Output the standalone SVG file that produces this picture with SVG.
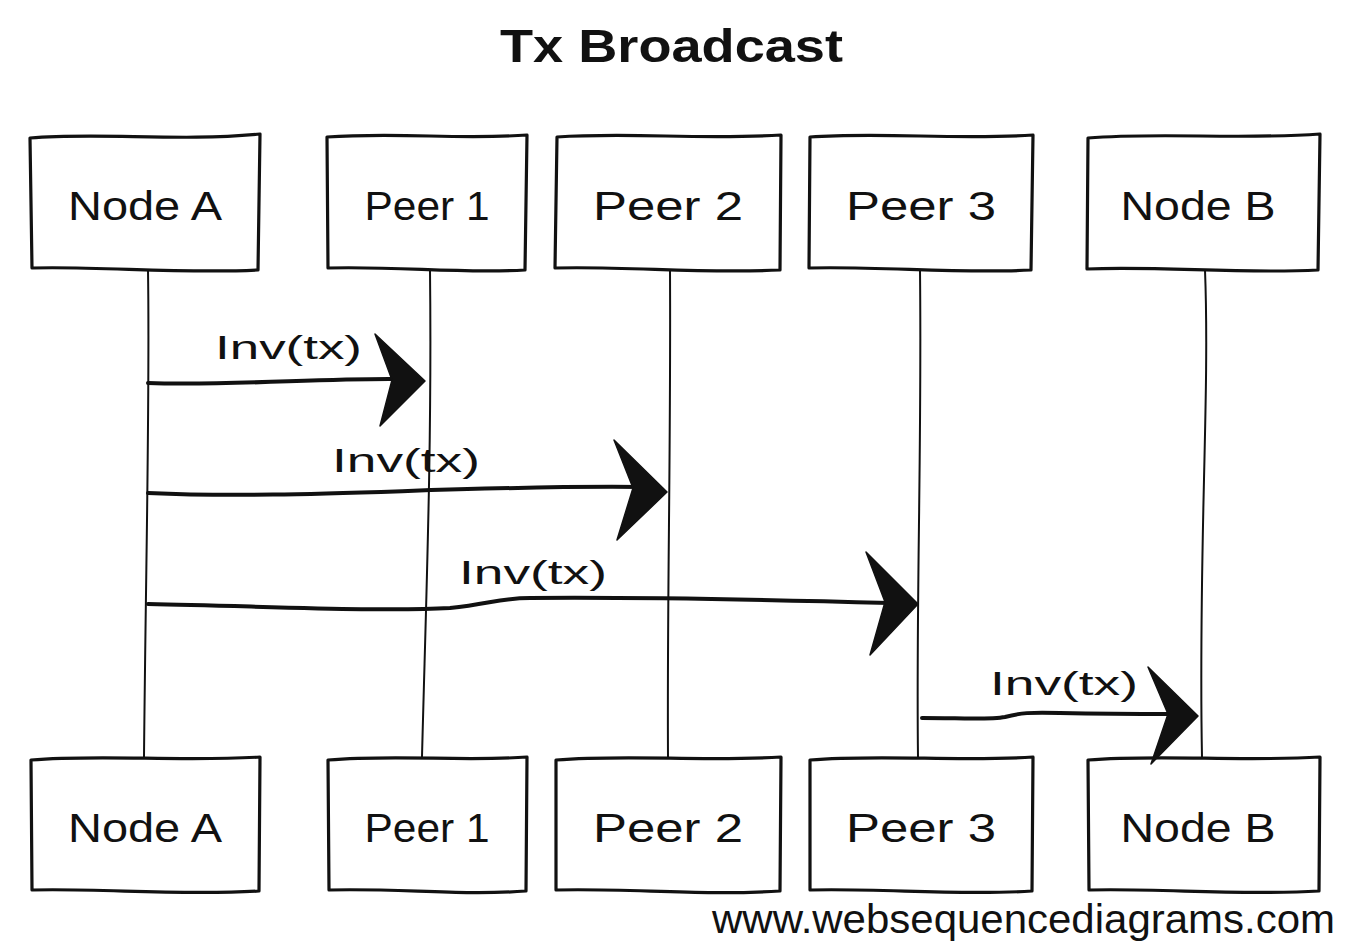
<svg xmlns="http://www.w3.org/2000/svg" width="1346" height="943" viewBox="0 0 1346 943">
<style>
.box{fill:#fff;stroke:#111;stroke-width:3.2;stroke-linejoin:round}
.life{fill:none;stroke:#111;stroke-width:2}
.msg{fill:none;stroke:#111;stroke-width:4;stroke-linecap:round}
.head{fill:#111;stroke:#111;stroke-width:1.5;stroke-linejoin:round}
.lbl{font-family:"Liberation Sans",sans-serif;font-size:40px;fill:#111;text-anchor:middle}
.mlbl{font-family:"Liberation Sans",sans-serif;font-size:33px;fill:#111}
.title{font-family:"Liberation Sans",sans-serif;font-size:46px;font-weight:bold;fill:#111}
.wm{font-family:"Liberation Sans",sans-serif;font-size:40px;fill:#111}
</style>
<rect width="1346" height="943" fill="#fff"/>
<text class="title" x="500" y="62" textLength="343" lengthAdjust="spacingAndGlyphs">Tx Broadcast</text>

<g id="lifelines" class="life">
<path d="M148,270 C150,400 146,550 144,757"/>
<path d="M430,270 C432,450 426,600 422,757"/>
<path d="M670,270 C671,450 667,600 668,757"/>
<path d="M920,270 C922,450 916,600 918,757"/>
<path d="M1205,270 C1210,400 1198,550 1202,757"/>
</g>

<g id="node-a-top"><path class="box" d="M30,138 C100,132 180,142 260,134 L258,270 C180,274 100,266 32,268 Z"/><text class="lbl" x="145" y="220" textLength="154" lengthAdjust="spacingAndGlyphs">Node A</text></g>
<g id="peer1-top"><path class="box" d="M327,137 C400,132 460,140 527,135 L525,270 C460,274 400,266 328,268 Z"/><text class="lbl" x="427" y="220" textLength="125" lengthAdjust="spacingAndGlyphs">Peer 1</text></g>
<g id="peer2-top"><path class="box" d="M557,137 C630,132 700,140 781,135 L780,270 C700,274 630,266 555,268 Z"/><text class="lbl" x="668" y="220" textLength="150" lengthAdjust="spacingAndGlyphs">Peer 2</text></g>
<g id="peer3-top"><path class="box" d="M810,137 C880,132 960,140 1033,135 L1031,270 C960,274 880,266 809,268 Z"/><text class="lbl" x="921" y="220" textLength="150" lengthAdjust="spacingAndGlyphs">Peer 3</text></g>
<g id="node-b-top"><path class="box" d="M1088,138 C1160,132 1240,140 1320,134 L1318,270 C1240,274 1160,266 1087,269 Z"/><text class="lbl" x="1198" y="220" textLength="155" lengthAdjust="spacingAndGlyphs">Node B</text></g>

<g id="node-a-bottom"><path class="box" d="M31,760 C100,754 180,762 260,757 L259,891 C180,896 100,888 32,890 Z"/><text class="lbl" x="145" y="842" textLength="154" lengthAdjust="spacingAndGlyphs">Node A</text></g>
<g id="peer1-bottom"><path class="box" d="M328,760 C400,754 460,762 527,757 L526,891 C460,896 400,888 329,890 Z"/><text class="lbl" x="427" y="842" textLength="125" lengthAdjust="spacingAndGlyphs">Peer 1</text></g>
<g id="peer2-bottom"><path class="box" d="M556,760 C630,754 700,762 781,757 L780,891 C700,896 630,888 556,890 Z"/><text class="lbl" x="668" y="842" textLength="150" lengthAdjust="spacingAndGlyphs">Peer 2</text></g>
<g id="peer3-bottom"><path class="box" d="M810,760 C880,754 960,762 1033,757 L1032,891 C960,896 880,888 810,890 Z"/><text class="lbl" x="921" y="842" textLength="150" lengthAdjust="spacingAndGlyphs">Peer 3</text></g>
<g id="node-b-bottom"><path class="box" d="M1088,760 C1160,754 1240,762 1320,757 L1319,891 C1240,896 1160,888 1089,890 Z"/><text class="lbl" x="1198" y="842" textLength="155" lengthAdjust="spacingAndGlyphs">Node B</text></g>

<g id="connectors">
<path class="msg" d="M148,383 C230,386 320,378 400,379"/>
<polygon class="head" points="425,381 375,334 392,380 380,426"/>
<text class="mlbl" x="215" y="359" textLength="147" lengthAdjust="spacingAndGlyphs">Inv(tx)</text>

<path class="msg" d="M148,493 C300,500 450,485 640,487"/>
<polygon class="head" points="667,492 614,440 633,488 617,540"/>
<text class="mlbl" x="332" y="472" textLength="148" lengthAdjust="spacingAndGlyphs">Inv(tx)</text>

<path class="msg" d="M148,604 C260,606 380,612 450,608 C490,604 500,598 530,598 C650,597 780,600 890,603"/>
<polygon class="head" points="918,604 866,552 885,602 870,655"/>
<text class="mlbl" x="459" y="584" textLength="148" lengthAdjust="spacingAndGlyphs">Inv(tx)</text>

<path class="msg" d="M922,718 C960,718 990,720 1005,717 C1020,713 1030,712 1060,713 C1110,714 1150,714 1172,714"/>
<polygon class="head" points="1198,716 1148,667 1168,714 1151,764"/>
<text class="mlbl" x="990" y="695" textLength="148" lengthAdjust="spacingAndGlyphs">Inv(tx)</text>
</g>

<text class="wm" x="712" y="933" textLength="623" lengthAdjust="spacingAndGlyphs">www.websequencediagrams.com</text>
</svg>
